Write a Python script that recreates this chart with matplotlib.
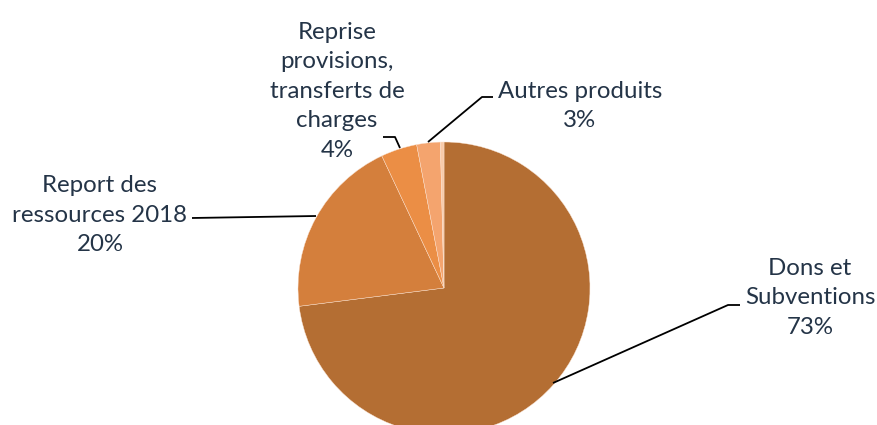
import matplotlib.pyplot as plt

labels = ['Dons et\nSubventions', 'Report des\nressources 2018', 'Reprise\nprovisions,\ntransferts de\ncharges',
          'Autres produits', '']
values = [73.0, 20.0, 4.0, 2.6, 0.4]
pct_text = ['73%', '20%', '4%', '3%', '']
colors = ['#B46E33', '#D47F3C', '#EB8E45', '#F4A46E', '#F8CBAA']

W, H = 877, 425
fig = plt.figure(figsize=(W / 100, H / 100), dpi=100)
ax = fig.add_axes([0, 0, 1, 1])

cx, cy, r = 444, H - 288, 146
ax.pie(values, colors=colors, startangle=90, counterclock=False,
       center=(cx, cy), radius=r, frame=True,
       wedgeprops=dict(edgecolor='#FBE3D2', linewidth=0.3))
ax.set_xlim(0, W)
ax.set_ylim(0, H)
ax.set_aspect('equal')
ax.axis('off')

txt = dict(fontsize=17.3, color='#243447', family=['Lato', 'DejaVu Sans'],
           ha='center', va='center', linespacing=1.5)

# label text, pixel coords of text center
lab_pos = [(810, 298), (100, 215), (337, 91), (580, 106)]
for i, (x, y) in enumerate(lab_pos):
    ax.text(x, H - y, labels[i] + '\n' + pct_text[i], **txt)

# leader lines (pixel coords)
leaders = [
    [(553, 383), (728, 305), (740, 305)],
    [(316, 216), (192, 218)],
    [(400, 148), (395, 137), (383, 137)],
    [(428, 142), (482, 97), (493, 97)],
]
for pts in leaders:
    ax.plot([p[0] for p in pts], [H - p[1] for p in pts], color='black', lw=1.3,
            solid_capstyle='butt')

fig.savefig('out.png', dpi=100)
